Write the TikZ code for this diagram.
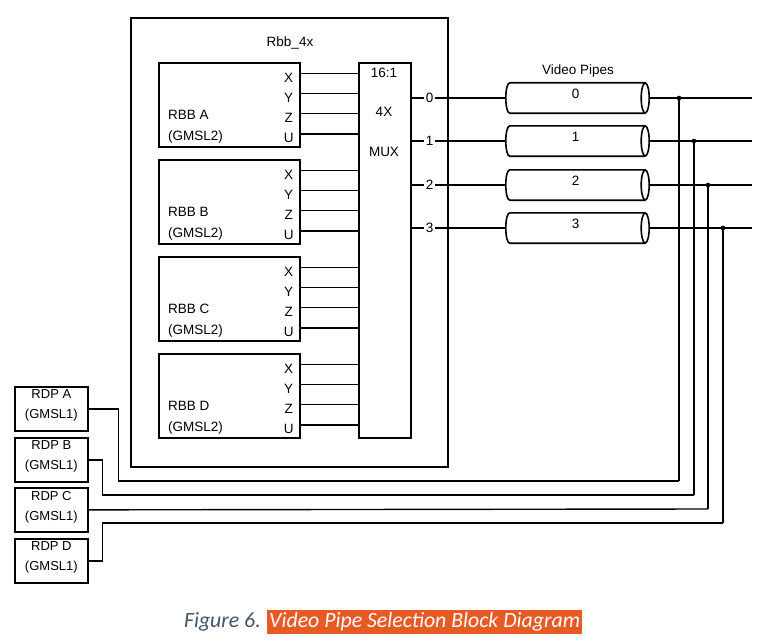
\documentclass[tikz,border=0pt]{standalone}
\usepackage{fontspec}
\setmainfont{Liberation Sans}
\newfontfamily\capfont{Carlito}
\definecolor{capor}{HTML}{E85A24}
\definecolor{capgray}{HTML}{44546A}
\begin{document}
\begin{tikzpicture}[x=1pt,y=-1pt,
  box/.style={draw, line width=1.7pt, inner sep=0pt, anchor=north west},
  wire/.style={line width=1.4pt},
  pipeline/.style={line width=1.6pt},
  lbl/.style={font=\fontsize{13.5}{15}\selectfont, inner sep=0pt}]
\useasboundingbox (0,0) rectangle (763,642);
% outer block
\node[box, minimum width=317pt, minimum height=449pt] (outer) at (130,17) {};
\node[lbl] (title) at (290,43) {Rbb\_4x};
% mux
\node[box, minimum width=52pt, minimum height=375pt] (mux) at (358,62) {};
\node[lbl] (m1) at (384,73) {16:1};
\node[lbl] (m2) at (384,112) {4X};
\node[lbl] (m3) at (384,152) {MUX};
% RBB blocks
\foreach \n/\k in {A/0,B/1,C/2,D/3}{
  \node[box, minimum width=141pt, minimum height=84pt] (rbb\n) at (158,{62+97*\k}) {};
  \node[lbl, align=left, anchor=west, font=\fontsize{13.5}{21}\selectfont] (rbb\n t) at ([xshift=10pt,yshift=-64.5pt]rbb\n.north west) {RBB \n\\(GMSL2)};
  \foreach \p/\o in {X/16,Y/35.5,Z/55.5,U/76}{
    \node[lbl] (rbb\n\p) at ([xshift=-12pt,yshift=-\o pt]rbb\n.north east) {\p};
  }
  \foreach \o in {11.5,31.5,51.5,72}{
    \draw[wire] ([yshift=-\o pt]rbb\n.north east) -- ([yshift=-\o pt]rbb\n.north east -| mux.west);
  }
}
% video pipes
\node[lbl] (vp) at (578,71) {Video Pipes};
\foreach \k/\y/\jx/\ky in {0/98/679/481,1/141/694/495,2/185/708/509,3/228/723/523}{
  \node[minimum width=139pt, minimum height=30pt, inner sep=0pt] (p\k) at (575.5,\y) {};
  \draw[pipeline] ([xshift=4pt]p\k.north west) -- (p\k.north east)
     (p\k.south east) -- ([xshift=4pt]p\k.south west)
     .. controls ([xshift=-1.33pt]p\k.south west) and ([xshift=-1.33pt]p\k.north west) .. ([xshift=4pt]p\k.north west);
  \draw[pipeline] (p\k.east) ellipse [x radius=4pt, y radius=15pt];
  \node[lbl, yshift=4pt] (pl\k) at (p\k.center) {\k};
  \draw[wire] (mux.east |- p\k.west) -- (p\k.west);
  \node[lbl, fill=white, inner xsep=1.5pt, inner ysep=1pt, xshift=18pt] (o\k) at (mux.east |- p\k.west) {\k};
  \coordinate (j\k) at (\jx,\y);
  \coordinate (e\k) at (752,\y);
  \coordinate (k\k) at (\jx,\ky);
  \draw[wire] ([xshift=4pt]p\k.east) -- (e\k);
  \draw[wire] (j\k) -- (k\k);
  \fill (j\k) circle (2.3pt);
}
% RDP blocks
\foreach \n/\t in {A/386,B/437,C/487,D/538}{
  \node[box, minimum width=73pt, minimum height=44pt] (rdp\n) at (14,\t) {};
  \node[lbl, align=center, font=\fontsize{13}{20}\selectfont] (rdp\n t) at ([yshift=3pt]rdp\n.center) {RDP \n\\(GMSL1)};
}
\draw[wire] (rdpA.east) -- ++(30,0) |- (k0);
\draw[wire] (rdpB.east) -- ++(14,0) |- (k1);
\draw[wire] (rdpC.east) -- (k2);
\draw[wire] (rdpD.east) -- ++(14,0) |- (k3);
% caption
\node[fill=capor, text=white, font=\capfont\itshape\fontsize{21.8}{24}\selectfont, inner xsep=2pt, inner ysep=2.5pt, anchor=west] (cap) at (267,622) {Video Pipe Selection Block Diagram};
\node[text=capgray, font=\capfont\itshape\fontsize{21.8}{24}\selectfont, inner sep=0pt, anchor=base east] (fig) at ([xshift=-6pt]cap.base west) {Figure 6.};
\end{tikzpicture}
\end{document}
